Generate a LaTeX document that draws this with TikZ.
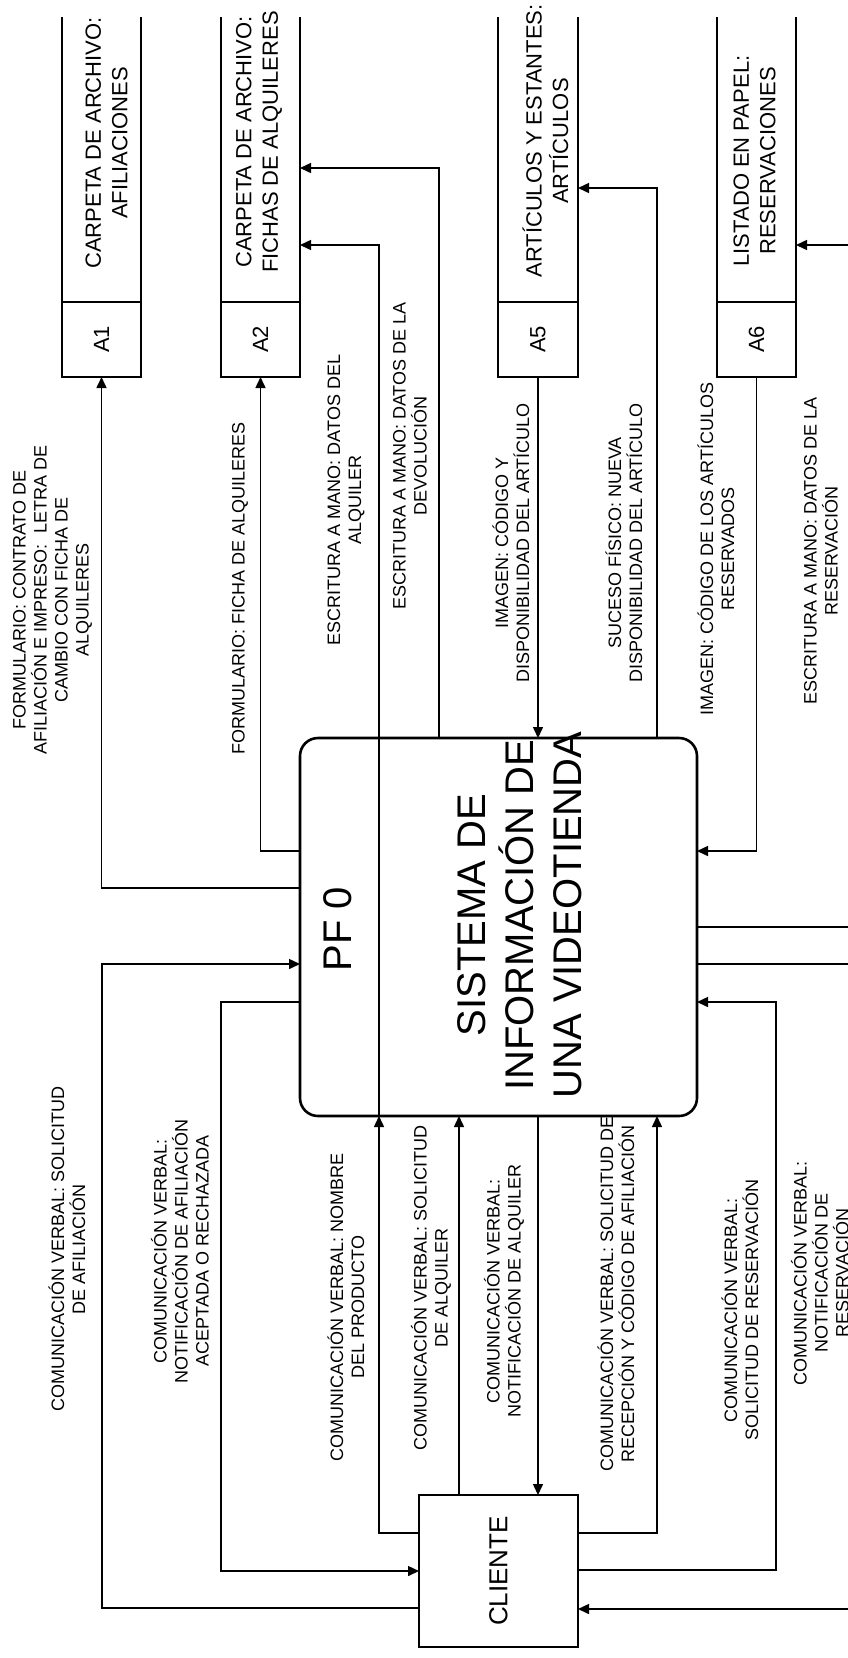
\documentclass[tikz,border=0pt]{standalone}
\usepackage{fontspec}
\setmainfont{Liberation Sans}
\usetikzlibrary{arrows.meta}

\begin{document}
\begin{tikzpicture}[x=1pt,y=-1pt,
  wire/.style={line width=1.5pt},
  flow/.style={line width=1.5pt,-{Triangle[length=11pt,width=10pt]}},
  border/.style={line width=2.6pt},
  area/.style={inner sep=0pt,outer sep=0pt},
  idbox/.style={draw,border,area,minimum width=79pt,minimum height=75pt},
  lbl/.style={rotate=90,align=center,inner sep=0pt,font=\fontsize{18}{21}\selectfont},
  storetxt/.style={rotate=90,align=center,inner sep=0pt,font=\fontsize{22}{26.5}\selectfont},
  bigtxt/.style={rotate=90,align=center,inner sep=0pt,font=\fontsize{40}{48}\selectfont}
]
\useasboundingbox (0,0) rectangle (848,1658);
\clip (0,0) rectangle (848,1658);

% ---------- data stores (open at the top) ----------
\node[area,minimum width=79pt,minimum height=285pt] (a1) at (101.5,159.5) {};
\node[idbox] (a1id) at (101.5,339.5) {};
\node[area,minimum width=79pt,minimum height=285pt] (a2) at (260.5,159.5) {};
\node[idbox] (a2id) at (260.5,339.5) {};
\node[area,minimum width=80pt,minimum height=285pt] (a5) at (538,159.5) {};
\node[idbox,minimum width=80pt] (a5id) at (538,339.5) {};
\node[area,minimum width=79pt,minimum height=285pt] (a6) at (756.5,159.5) {};
\node[idbox] (a6id) at (756.5,339.5) {};
\foreach \s in {a1,a2,a5,a6}{
  \draw[border] (\s.north west) -- (\s id.north west);
  \draw[border] (\s.north east) -- (\s id.north east);
}

\node[storetxt] (a1t) at (106.5,143) {CARPETA DE ARCHIVO:\\AFILIACIONES};
\node[storetxt] (a2t) at (259,142) {CARPETA DE ARCHIVO:\\FICHAS DE ALQUILERES};
\node[storetxt] (a5t) at (545.5,141) {ARTÍCULOS Y ESTANTES:\\ARTÍCULOS};
\node[storetxt] (a6t) at (754.5,161) {LISTADO EN PAPEL:\\RESERVACIONES};
\node[storetxt] (a1n) at (a1id) {A1};
\node[storetxt] (a2n) at (a2id) {A2};
\node[storetxt] (a5n) at (a5id) {A5};
\node[storetxt] (a6n) at (a6id) {A6};

% ---------- process and external entity ----------
\node[draw,border,area,rounded corners=18pt,minimum width=397pt,minimum height=378pt] (pf) at (498.5,927) {};
\node[bigtxt] (pfid) at (337.5,929) {PF 0};
\node[bigtxt] (pfname) at (520,915) {SISTEMA DE\\INFORMACIÓN DE\\UNA VIDEOTIENDA};
\node[draw,line width=2pt,area,minimum width=159pt,minimum height=152pt,
      font=\fontsize{26}{30}\selectfont] (cli) at (498.5,1571) {\rotatebox{90}{CLIENTE}};

% ---------- flows between the process and the stores ----------
\draw[flow] (pf.west |- 0,888) -| (a1id.south);
\draw[flow] (pf.west |- 0,851) -| (a2id.south);
\draw[flow] (pf.south -| 379,0) |- (a2.east |- 0,245);
\draw[flow] (pf.north -| 439,0) |- (a2.east |- 0,168);
\draw[flow] (a5id.south) -- (pf.north -| a5id.south);
\draw[flow] (pf.north -| 657,0) |- (a5.east |- 0,188);
\draw[flow] (a6id.south) |- (pf.east |- 0,851);
\draw[flow] (pf.east |- 0,927) -| (870,600) |- (a6.east |- 0,245);

% ---------- flows between the process and the client ----------
\draw[flow] (pf.east |- 0,964) -| (885,1300) |- (cli.east |- 0,1609);
\draw[flow] (cli.east |- 0,1570) -| (776,1300) |- (pf.east |- 0,1002);
\draw[flow] (cli.east |- 0,1533) -| (pf.south -| 657,0);
\draw[flow] (pf.south -| 538,0) -- (cli.north -| 538,0);
\draw[flow] (cli.north -| 459,0) -- (pf.south -| 459,0);
\draw[flow] (cli.west |- 0,1533) -| (pf.south -| 379,0);
\draw[flow] (pf.west |- 0,1002) -| (221,1571) -- (cli.west |- 0,1571);
\draw[flow] (cli.west |- 0,1608) -| (102,964) -- (pf.west |- 0,964);

% ---------- flow labels ----------
\node[lbl] (l1) at (52.5,600) {FORMULARIO: CONTRATO DE\\AFILIACIÓN E IMPRESO:\ \ LETRA DE\\CAMBIO CON FICHA DE\\ALQUILERES};
\node[lbl] (l2) at (240,588) {FORMULARIO: FICHA DE ALQUILERES};
\node[lbl] (l3) at (346,500) {ESCRITURA A MANO: DATOS DEL\\ALQUILER};
\node[lbl] (l4) at (410,456) {ESCRITURA A MANO: DATOS DE LA\\DEVOLUCIÓN};
\node[lbl] (l5) at (511,543) {IMAGEN: CÓDIGO Y\\DISPONIBILIDAD DEL ARTÍCULO};
\node[lbl] (l6) at (624,543) {SUCESO FÍSICO: NUEVA\\DISPONIBILIDAD DEL ARTÍCULO};
\node[lbl] (l7) at (716,549) {IMAGEN: CÓDIGO DE LOS ARTÍCULOS\\RESERVADOS};
\node[lbl] (l8) at (821,551) {ESCRITURA A MANO: DATOS DE LA\\RESERVACIÓN};
\node[lbl] (l9) at (67,1249) {COMUNICACIÓN VERBAL: SOLICITUD\\DE AFILIACIÓN};
\node[lbl] (l10) at (180,1251) {COMUNICACIÓN VERBAL:\\NOTIFICACIÓN DE AFILIACIÓN\\ACEPTADA O RECHAZADA};
\node[lbl] (l11) at (346,1307) {COMUNICACIÓN VERBAL: NOMBRE\\DEL PRODUCTO};
\node[lbl] (l12) at (431,1288) {COMUNICACIÓN VERBAL: SOLICITUD\\DE ALQUILER};
\node[lbl] (l13) at (504,1291) {COMUNICACIÓN VERBAL:\\NOTIFICACIÓN DE ALQUILER};
\node[lbl] (l14) at (616,1294) {COMUNICACIÓN VERBAL: SOLICITUD DE\\RECEPCIÓN Y CÓDIGO DE AFILIACIÓN};
\node[lbl] (l15) at (740,1310) {COMUNICACIÓN VERBAL:\\SOLICITUD DE RESERVACIÓN};
\node[lbl] (l16) at (820,1273) {COMUNICACIÓN VERBAL:\\NOTIFICACIÓN DE\\RESERVACIÓN};
\end{tikzpicture}
\end{document}
